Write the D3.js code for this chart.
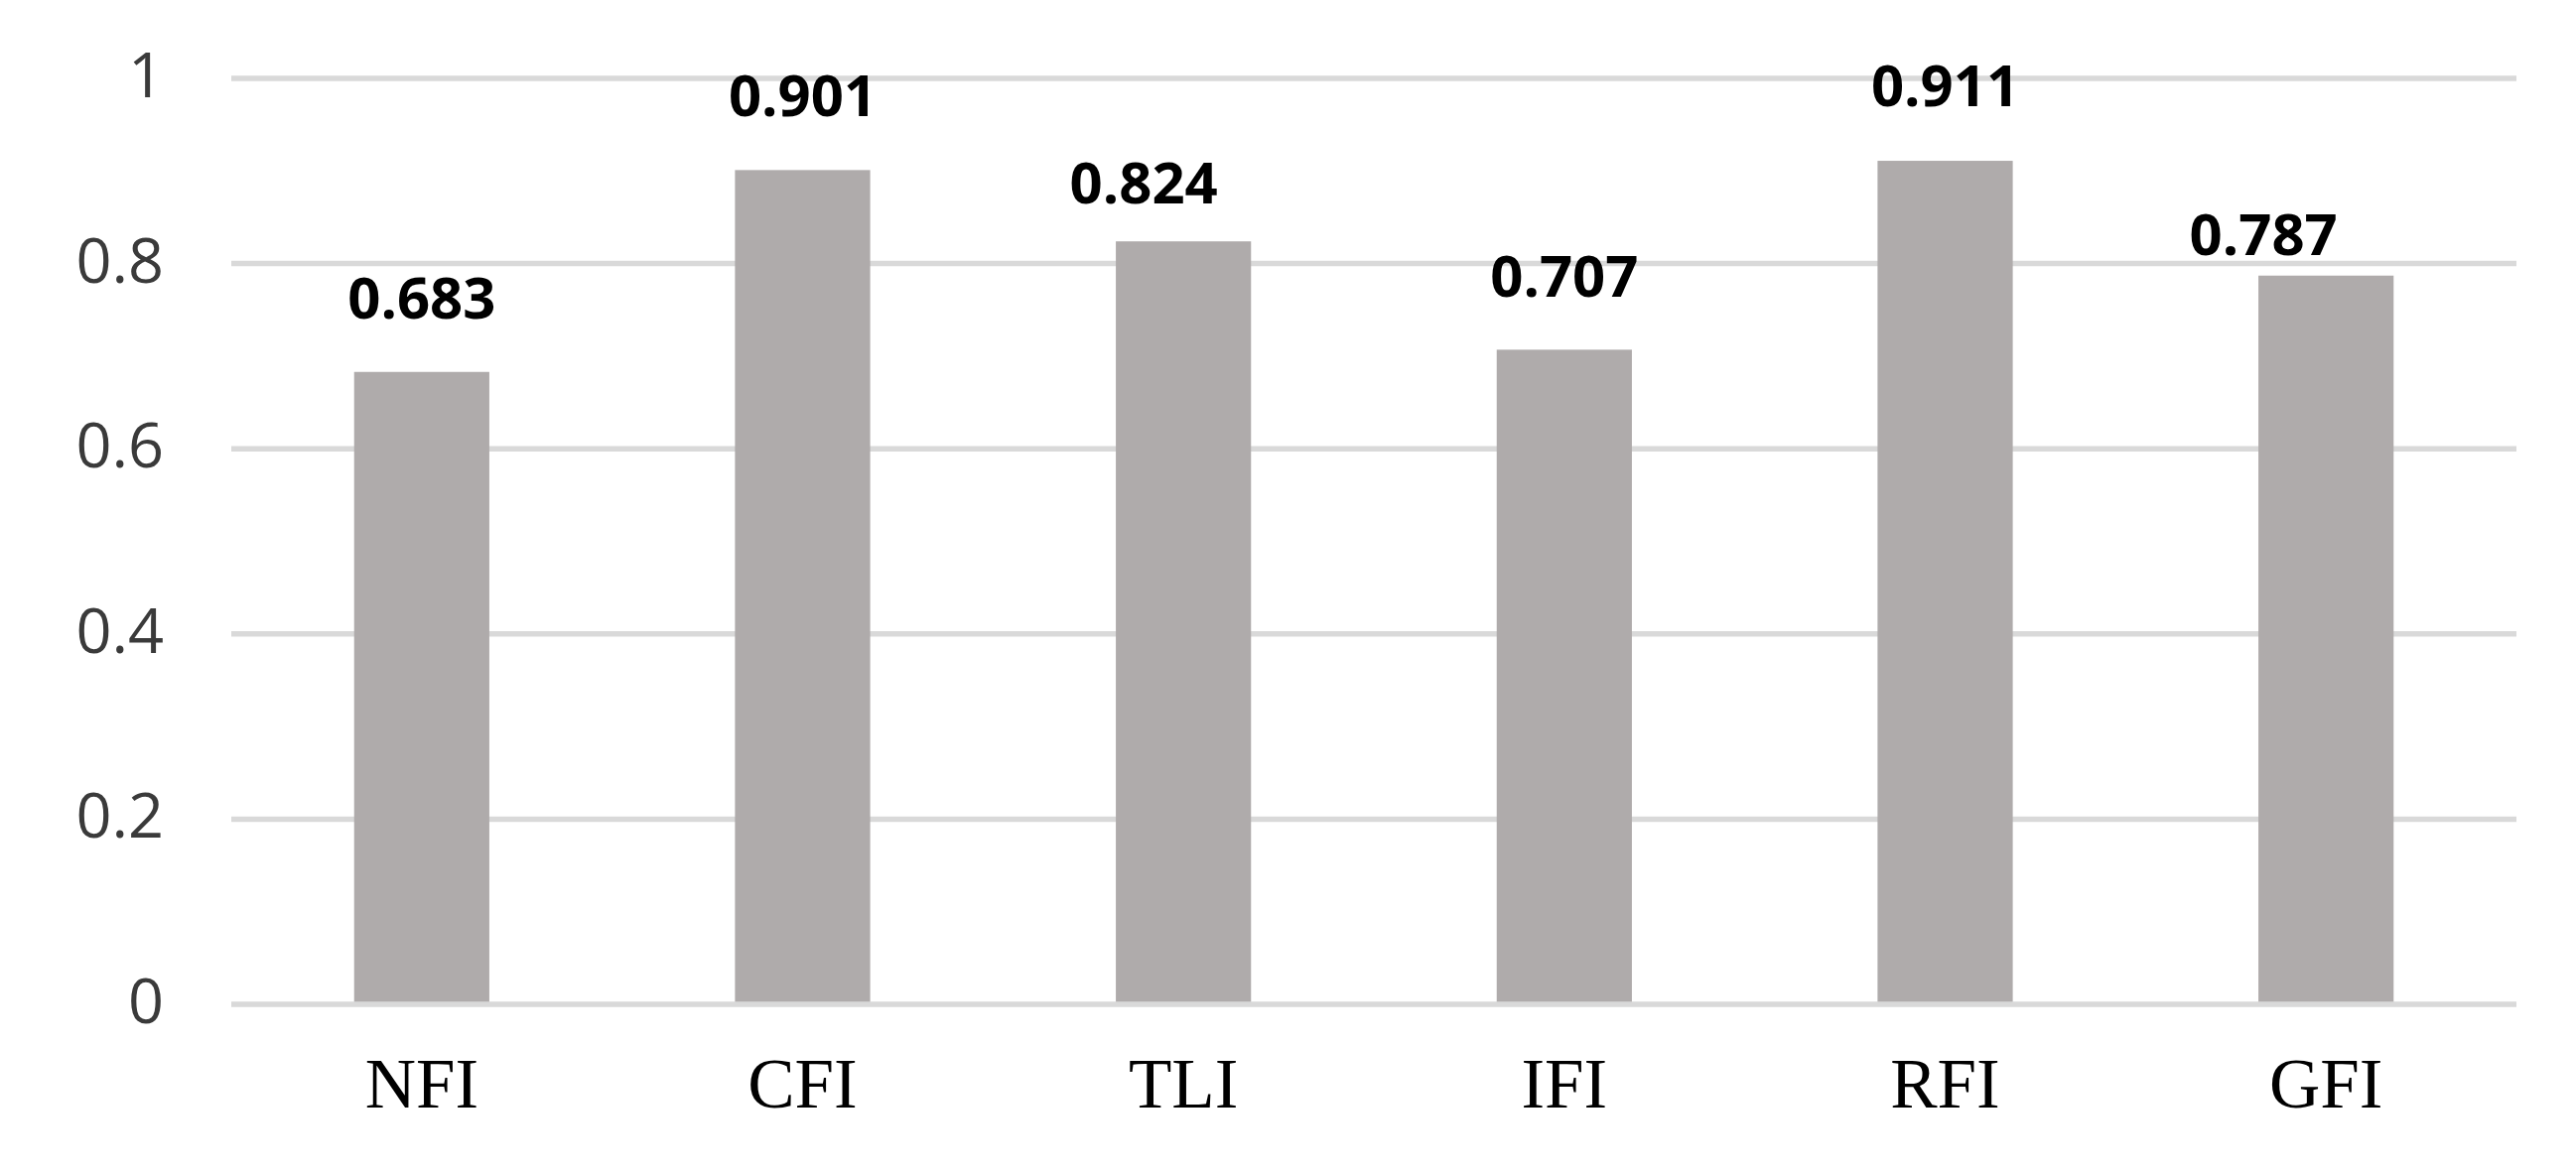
<!DOCTYPE html>
<html>
<head>
<meta charset="utf-8">
<script src="https://cdn.jsdelivr.net/npm/d3@7"></script>
<style>
  html, body { margin: 0; padding: 0; background: #fff; }
  svg { display: block; }
</style>
</head>
<body>
<div id="chart"></div>
<script>
const categories = ["NFI", "CFI", "TLI", "IFI", "RFI", "GFI"];
const values = [0.683, 0.901, 0.824, 0.707, 0.911, 0.787];
const valueLabels = ["0.683", "0.901", "0.824", "0.707", "0.911", "0.787"];
const yTicks = [0, 0.2, 0.4, 0.6, 0.8, 1];
const yTickLabels = ["0", "0.2", "0.4", "0.6", "0.8", "1"];

(function () {
const W = 2595, H = 1185;
const plotLeft = 233, plotRight = 2535, plotTop = 79, plotBottom = 1012;
// manual nudges of the data labels (as placed in the original chart), in px
const labelDx = [0, 0, -40, 0, 0, -63];
const labelGap = [53, 53, 37, 52, 54, 20];

const svg = d3.select("#chart").append("svg").attr("width", W).attr("height", H);

const x = d3.scaleBand().domain(categories).range([plotLeft, plotRight])
  .paddingInner(0.645).paddingOuter(0.3225);
const y = d3.scaleLinear().domain([0, 1]).range([plotBottom, plotTop]);

// gridlines (non-zero) behind bars
svg.append("g").selectAll("line").data(yTicks.filter(d => d !== 0)).join("line")
  .attr("x1", plotLeft).attr("x2", plotRight)
  .attr("y1", d => y(d)).attr("y2", d => y(d))
  .attr("stroke", "#D9D9D9").attr("stroke-width", 5.5);

// bars
svg.append("g").selectAll("rect").data(values).join("rect")
  .attr("x", (d, i) => x(categories[i]))
  .attr("width", x.bandwidth())
  .attr("y", d => y(d))
  .attr("height", d => y(0) - y(d))
  .attr("fill", "#AFABAB");

// zero axis line on top
svg.append("line")
  .attr("x1", plotLeft).attr("x2", plotRight)
  .attr("y1", y(0)).attr("y2", y(0))
  .attr("stroke", "#D9D9D9").attr("stroke-width", 5.5);

// y tick labels
svg.append("g").selectAll("text").data(yTicks).join("text")
  .attr("x", 165)
  .attr("y", d => y(d) + 19)
  .attr("text-anchor", "end")
  .attr("font-family", "'Open Sans', sans-serif")
  .attr("font-size", 63)
  .attr("fill", "#3a3a3a")
  .text((d, i) => yTickLabels[i]);

// value labels
svg.append("g").selectAll("text").data(values).join("text")
  .attr("x", (d, i) => x(categories[i]) + x.bandwidth() / 2 + labelDx[i])
  .attr("y", (d, i) => y(d) - labelGap[i] - 1)
  .attr("text-anchor", "middle")
  .attr("font-family", "'Open Sans', sans-serif")
  .attr("font-weight", "bold")
  .attr("font-size", 58)
  .attr("fill", "#000")
  .text((d, i) => valueLabels[i]);

// category labels
svg.append("g").selectAll("text").data(categories).join("text")
  .attr("x", d => x(d) + x.bandwidth() / 2)
  .attr("y", 1116)
  .attr("text-anchor", "middle")
  .attr("font-family", "'Liberation Serif', 'Times New Roman', serif")
  .attr("font-size", 71)
  .attr("fill", "#000")
  .text(d => d);
})();
</script>
</body>
</html>
